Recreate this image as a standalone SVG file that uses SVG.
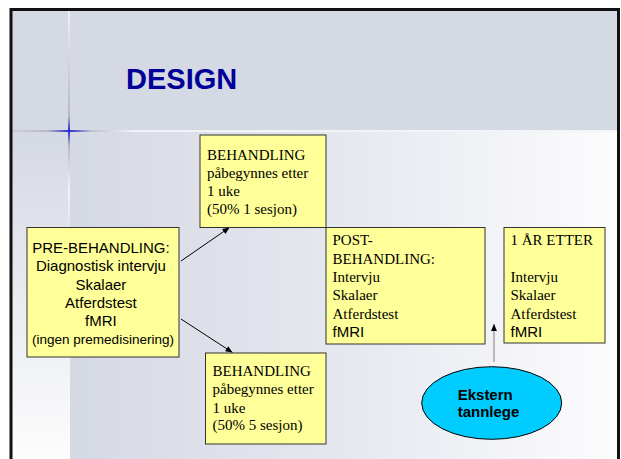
<svg xmlns="http://www.w3.org/2000/svg" width="621" height="459" viewBox="0 0 621 459">
<defs>
<style>
.box{fill:#ffff99;stroke:#333333;stroke-width:1}
.serif{font-family:"Liberation Serif","Times New Roman",serif;font-size:15px;fill:#000}
.sans{font-family:"Liberation Sans",Arial,sans-serif;font-size:15px;fill:#000}
.conn{stroke:#000;stroke-width:1;fill:none}
</style>
<marker id="arr" markerUnits="userSpaceOnUse" markerWidth="7" markerHeight="6" refX="7" refY="3" orient="auto">
<path d="M0,0 L7,3 L0,6 z" fill="#000"/>
</marker>
<linearGradient id="content" x1="0" y1="0" x2="1" y2="0">
<stop offset="0" stop-color="#d5d9e4"/>
<stop offset="0.5" stop-color="#e6e8ef"/>
<stop offset="1" stop-color="#fcfcfd"/>
</linearGradient>
<linearGradient id="strip" x1="0" y1="0" x2="0" y2="1">
<stop offset="0" stop-color="#d5d9e4"/>
<stop offset="1" stop-color="#fdfdfd"/>
</linearGradient>
<linearGradient id="vline" gradientUnits="userSpaceOnUse" x1="0" y1="11" x2="0" y2="235">
<stop offset="0" stop-color="#eef0f5"/>
<stop offset="0.35" stop-color="#c4c6cc"/>
<stop offset="0.47" stop-color="#b8b8c4"/>
<stop offset="0.535" stop-color="#2a2ad0"/>
<stop offset="0.6" stop-color="#b8b8c4"/>
<stop offset="0.8" stop-color="#f4f4f8"/>
<stop offset="1" stop-color="#f4f4f8" stop-opacity="0"/>
</linearGradient>
<linearGradient id="hline" gradientUnits="userSpaceOnUse" x1="12" y1="0" x2="619" y2="0">
<stop offset="0" stop-color="#d0d0d4"/>
<stop offset="0.06" stop-color="#b8b8c4"/>
<stop offset="0.094" stop-color="#2a2ad0"/>
<stop offset="0.13" stop-color="#c0c0cc"/>
<stop offset="0.2" stop-color="#f2f3f7"/>
<stop offset="1" stop-color="#f4f5f8"/>
</linearGradient>
</defs>
<rect x="0" y="0" width="621" height="459" fill="#ffffff"/>
<rect x="12" y="11" width="606" height="120" fill="#d5d9e4"/>
<rect x="70" y="131" width="548" height="330" fill="url(#content)"/>
<rect x="12" y="131" width="58" height="330" fill="url(#strip)"/>
<rect x="68" y="11" width="2" height="224" fill="url(#vline)"/>
<rect x="12" y="130" width="606" height="2" fill="url(#hline)"/>
<rect x="11" y="9.5" width="607.5" height="470" fill="none" stroke="#111" stroke-width="3"/>
<text x="126" y="89" font-family="Liberation Sans, Arial, sans-serif" font-size="29" font-weight="bold" fill="#000099">DESIGN</text>

<g id="connectors">
<line class="conn" x1="181" y1="261" x2="229.5" y2="227.5" marker-end="url(#arr)"/>
<line class="conn" x1="181" y1="319" x2="232.5" y2="352.5" marker-end="url(#arr)"/>
<line x1="494" y1="362" x2="494" y2="324" stroke="#808080" stroke-width="1" marker-end="url(#arr)"/>
</g>

<g id="pre">
<rect class="box" x="27" y="227.5" width="152" height="129.5"/>
<text class="sans" text-anchor="middle" x="103">
<tspan x="103" y="252.5">PRE-BEHANDLING:</tspan>
<tspan x="103" y="271">Diagnostisk intervju</tspan>
<tspan x="103" y="289.5">Skalaer</tspan>
<tspan x="103" y="307.5">Atferdstest</tspan>
<tspan x="103" y="326">fMRI</tspan>
<tspan x="103" y="344" font-size="13.5">(ingen premedisinering)</tspan>
</text>
</g>

<g id="behandling1">
<rect class="box" x="200" y="135" width="126" height="92.5"/>
<text class="serif">
<tspan x="207" y="159.5">BEHANDLING</tspan>
<tspan x="207" y="177.5">påbegynnes etter</tspan>
<tspan x="207" y="196">1 uke</tspan>
<tspan x="207" y="214">(50% 1 sesjon)</tspan>
</text>
</g>

<g id="behandling2">
<rect class="box" x="205.5" y="353" width="120.5" height="91"/>
<text class="serif">
<tspan x="212.5" y="376">BEHANDLING</tspan>
<tspan x="212.5" y="394">påbegynnes etter</tspan>
<tspan x="212.5" y="412.5">1 uke</tspan>
<tspan x="212.5" y="430">(50% 5 sesjon)</tspan>
</text>
</g>

<g id="post">
<rect class="box" x="326" y="227.5" width="159" height="116.5"/>
<text class="serif">
<tspan x="332.5" y="245">POST-</tspan>
<tspan x="332.5" y="263.5">BEHANDLING:</tspan>
<tspan x="332.5" y="281.5">Intervju</tspan>
<tspan x="332.5" y="300">Skalaer</tspan>
<tspan x="332.5" y="318.5">Atferdstest</tspan>
</text>
<text class="sans" x="332.5" y="336.5">fMRI</text>
</g>

<g id="etter">
<rect class="box" x="504" y="227.5" width="101" height="115.5"/>
<text class="serif">
<tspan x="510.5" y="245">1 ÅR ETTER</tspan>
<tspan x="510.5" y="281.5">Intervju</tspan>
<tspan x="510.5" y="300">Skalaer</tspan>
<tspan x="510.5" y="318.5">Atferdstest</tspan>
</text>
<text class="sans" x="510.5" y="336.5">fMRI</text>
</g>

<g id="ekstern">
<ellipse cx="491.7" cy="403" rx="70" ry="36.3" fill="#00ccff" stroke="#000" stroke-width="1"/>
<text class="sans" font-weight="bold">
<tspan x="457.7" y="400">Ekstern</tspan>
<tspan x="457.7" y="416.7">tannlege</tspan>
</text>
</g>
</svg>
